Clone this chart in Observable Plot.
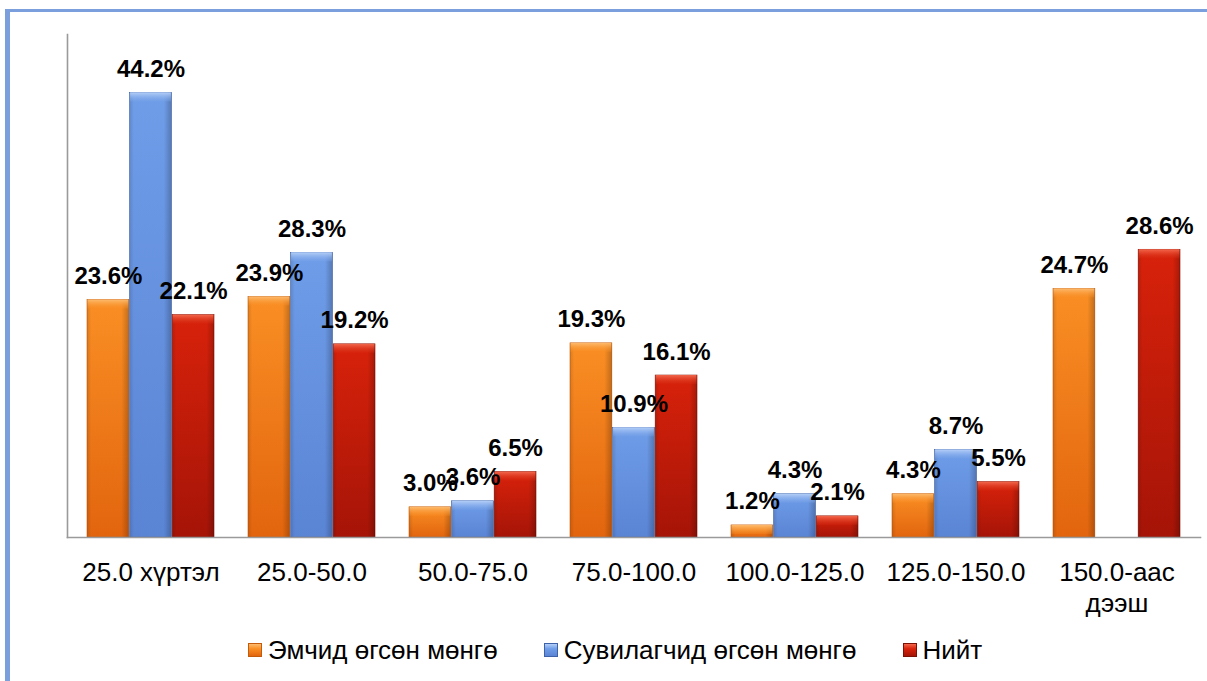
<!DOCTYPE html>
<html>
<head>
<meta charset="utf-8">
<script src="https://cdn.jsdelivr.net/npm/d3@7"></script>
<script src="https://cdn.jsdelivr.net/npm/@observablehq/plot@0.6"></script>
<style>
  html, body { margin: 0; padding: 0; background: #fff; overflow: hidden; }
  #wrap { position: relative; width: 1207px; height: 681px; font-family: "Liberation Sans", Arial, sans-serif; color: #000; }
  #border { position: absolute; left: 5px; top: 9px; right: -10px; bottom: -10px;
            border-top: 3px solid #7b9edd; border-left: 5px solid #7b9edd; pointer-events: none; z-index: 2; }
  #legend { height: 30px; margin-top: 15px; display: flex; align-items: center; padding-left: 248px; gap: 0; }
  .item { display: flex; align-items: center; font-size: 26px; line-height: 30px; }
  .item + .item { margin-left: 46px; }
  .sw { width: 14px; height: 14px; margin-right: 6px; box-sizing: border-box; }
</style>
</head>
<body>
<div id="wrap"><div id="chart"></div><div id="legend"></div><div id="border"></div></div>
<script>
const categories = ["25.0 хүртэл", "25.0-50.0", "50.0-75.0", "75.0-100.0", "100.0-125.0", "125.0-150.0", "150.0-аас дээш"];
const seriesNames = ["Эмчид өгсөн мөнгө", "Сувилагчид өгсөн мөнгө", "Нийт"];
const doctorValues = [23.6, 23.9, 3.0, 19.3, 1.2, 4.3, 24.7];
const nurseValues  = [44.2, 28.3, 3.6, 10.9, 4.3, 8.7, null];
const totalValues  = [22.1, 19.2, 6.5, 16.1, 2.1, 5.5, 28.6];

const seriesValues = [doctorValues, nurseValues, totalValues];
const seriesStyle = [
  {id: "gO", top: "#fa8f24", bottom: "#e2650e", bevel0: "#fdbb6e", bevel1: "#f98c22", edge: "#c35a0c"},
  {id: "gB", top: "#6f9de8", bottom: "#5a84d4", bevel0: "#b5cff7", bevel1: "#7aa4ea", edge: "#3d62a8"},
  {id: "gR", top: "#d8220b", bottom: "#a51407", bevel0: "#f2684c", bevel1: "#d72a12", edge: "#7d1005"}
];

const rows = [];
seriesValues.forEach((vals, s) => vals.forEach((v, i) => rows.push({cat: categories[i], series: s, value: v})));

const W = 1207, H = 620, ml = 67, mr = 7, mt = 34, mb = 83;
const paddingInner = 0.21, paddingOuter = 0.108;
const xs = Plot.scale({x: {type: "band", domain: categories, range: [ml, W - mr], paddingInner, paddingOuter}});
const bw = xs.bandwidth;
const third = bw / 3;

const marks = [];
seriesStyle.forEach((st, s) => {
  const data = rows.filter(d => d.series === s && d.value != null);
  const inset = {insetLeft: s * third, insetRight: (2 - s) * third};
  marks.push(Plot.barY(data, {x: "cat", y: "value", ...inset, fill: `url(#${st.id})`, stroke: st.edge, strokeWidth: 0.6}));
  marks.push(Plot.barY(data, {x: "cat", y: "value", ...inset, fill: "url(#side)"}));
  marks.push(Plot.barY(data, {x: "cat", y1: "value", y2: "value", ...inset, insetLeft: inset.insetLeft + 0.5, insetRight: inset.insetRight + 0.5, insetBottom: -9, fill: `url(#${st.id}b)`}));
});
marks.push(Plot.frame({anchor: "left", stroke: "#9a9a9a", strokeWidth: 1.6}));
marks.push(Plot.frame({anchor: "bottom", stroke: "#9a9a9a", strokeWidth: 1.6}));
seriesStyle.forEach((st, s) => {
  const data = rows.filter(d => d.series === s && d.value != null);
  marks.push(Plot.text(data, {x: "cat", y: "value", text: d => d.value.toFixed(1) + "%", dx: (s - 1) * third, dy: -16,
    lineAnchor: "bottom", fontSize: 24, fontWeight: "bold", fill: "#000"}));
});
marks.push(Plot.axisX({tickSize: 0, tickPadding: 21, fontSize: 26, lineHeight: 1.2, label: null,
  tickFormat: d => d.replace(" дээш", "\nдээш")}));

const chart = Plot.plot({
  width: W, height: H, marginLeft: ml, marginRight: mr, marginTop: mt, marginBottom: mb,
  style: {background: "transparent", fontFamily: "'Liberation Sans', Arial, sans-serif", color: "#000", overflow: "visible"},
  x: {type: "band", domain: categories, paddingInner, paddingOuter, axis: null, label: null},
  y: {domain: [0, 50], axis: null},
  marks
});

const svg = d3.select(chart);
const defs = svg.insert("defs", ":first-child");
seriesStyle.forEach(st => {
  const g = defs.append("linearGradient").attr("id", st.id).attr("x1", 0).attr("y1", 0).attr("x2", 0).attr("y2", 1);
  g.append("stop").attr("offset", "0%").attr("stop-color", st.top);
  g.append("stop").attr("offset", "100%").attr("stop-color", st.bottom);
  const b = defs.append("linearGradient").attr("id", st.id + "b").attr("x1", 0).attr("y1", 0).attr("x2", 0).attr("y2", 1);
  b.append("stop").attr("offset", "0%").attr("stop-color", st.bevel0);
  b.append("stop").attr("offset", "100%").attr("stop-color", st.bevel1).attr("stop-opacity", 0.3);
});
const side = defs.append("linearGradient").attr("id", "side").attr("x1", 0).attr("y1", 0).attr("x2", 1).attr("y2", 0);
[["0%", "#000", 0.12], ["10%", "#000", 0], ["82%", "#000", 0], ["100%", "#000", 0.22]].forEach(([o, c, a]) =>
  side.append("stop").attr("offset", o).attr("stop-color", c).attr("stop-opacity", a));

document.getElementById("chart").appendChild(chart);

const legend = document.getElementById("legend");
seriesNames.forEach((name, s) => {
  const st = seriesStyle[s];
  const item = document.createElement("div");
  item.className = "item";
  const sw = document.createElement("span");
  sw.className = "sw";
  sw.style.background = `linear-gradient(to bottom, ${st.bevel0} 0%, ${st.top} 40%, ${st.bottom} 100%)`;
  sw.style.border = `1px solid ${st.edge}`;
  const label = document.createElement("span");
  label.textContent = name;
  item.appendChild(sw);
  item.appendChild(label);
  legend.appendChild(item);
});
</script>
</body>
</html>
